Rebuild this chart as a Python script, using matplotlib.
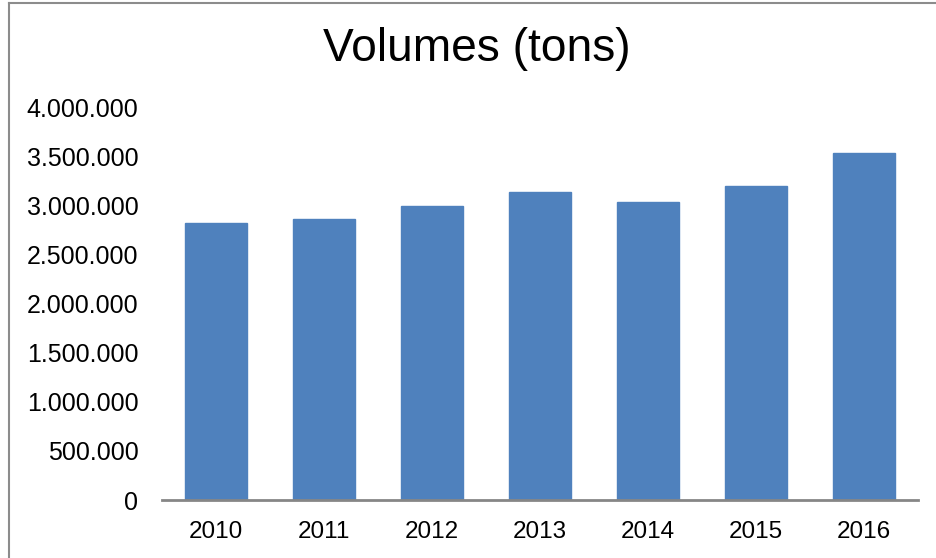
import matplotlib.pyplot as plt
from matplotlib.ticker import FuncFormatter
from matplotlib.lines import Line2D

years = ['2010', '2011', '2012', '2013', '2014', '2015', '2016']
volumes = [2821000, 2862000, 2997000, 3136000, 3035000, 3194000, 3534000]

plt.rcParams['font.family'] = ['Liberation Sans', 'DejaVu Sans']

fig = plt.figure(figsize=(9.36, 5.58), dpi=100)
ax = fig.add_axes([162 / 936, 58 / 558, 756 / 936, 393 / 558])

x = range(len(years))
ax.bar(x, volumes, width=0.574, color='#4F81BD', edgecolor='#4F81BD')

ax.set_xlim(-0.5, len(years) - 0.5)
ax.set_ylim(0, 4000000)
ax.set_yticks(range(0, 4000001, 500000))
ax.yaxis.set_major_formatter(FuncFormatter(lambda v, p: f"{int(v):,}".replace(',', '.')))
ax.set_xticks(list(x))
ax.set_xticklabels(years)

for side in ['top', 'right', 'left']:
    ax.spines[side].set_visible(False)
ax.spines['bottom'].set_color('#868686')
ax.spines['bottom'].set_linewidth(2)
ax.tick_params(axis='both', length=0, colors='black')
ax.tick_params(axis='y', pad=17, labelsize=18)
ax.tick_params(axis='x', pad=15, labelsize=17.5)

fig.text(477 / 936, 1 - 61 / 558, 'Volumes (tons)', ha='center', va='baseline', fontsize=33.2)

# chart frame (left and top edges visible)
fig.add_artist(Line2D([9 / 936, 9 / 936], [0, 1 - 3 / 558], transform=fig.transFigure, color='#8c8c8c', lw=1.5))
fig.add_artist(Line2D([9 / 936, 1], [1 - 3 / 558, 1 - 3 / 558], transform=fig.transFigure, color='#8c8c8c', lw=1.5))

fig.savefig('out.png', dpi=100)
